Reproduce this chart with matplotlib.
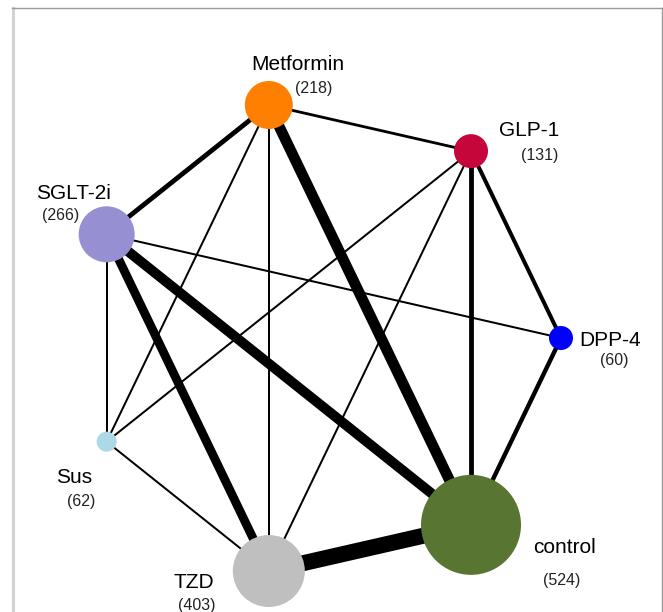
#!/usr/bin/env python3
"""
Network graph of treatment comparisons (circular layout).

Nodes are treatments placed on a circle, node size reflects the number of
participants, edge width reflects the amount of direct evidence.
"""

import numpy as np
import matplotlib.pyplot as plt
from matplotlib.patches import Circle


# =============================================================================
# Data
# =============================================================================

# Treatments in the order they sit on the circle (counter-clockwise,
# starting at 3 o'clock).
treatments = ["DPP-4", "GLP-1", "Metformin", "SGLT-2i", "Sus", "TZD", "control"]
participants = [60, 131, 218, 266, 62, 403, 524]

# Node size (radius, px).
node_size = [12, 17, 24, 28, 10, 36, 50]

node_colors = ["#0000FF", "#C4063B", "#FF8000", "#9690D2",
               "#ADD8E6", "#BFBFBF", "#587532"]

# Direct comparisons and their evidence weight.
edge_from = ["Metformin", "Metformin", "Metformin", "Metformin", "Metformin",
             "GLP-1", "GLP-1", "GLP-1", "GLP-1",
             "SGLT-2i", "SGLT-2i", "SGLT-2i", "SGLT-2i",
             "Sus", "DPP-4", "TZD"]
edge_to = ["GLP-1", "SGLT-2i", "Sus", "TZD", "control",
           "Sus", "TZD", "control", "DPP-4",
           "DPP-4", "Sus", "TZD", "control",
           "TZD", "control", "control"]
edge_weight = [1.4, 2.4, 1.0, 1.0, 5.4,
               1.0, 1.0, 2.4, 2.0,
               1.0, 1.0, 4.4, 5.0,
               1.0, 2.2, 8.0]


# =============================================================================
# Layout / style
# =============================================================================

W, H = 663, 612
CENTER = (322, 612 - 338)
RADIUS = 239
PX_TO_PT = 0.72
EDGE_PX_PER_UNIT = 2.0

# Label offsets from the node centre in px (dx right, dy down):
# (name_dx, name_dy, count_dx, count_dy)
label_offsets = {
    "DPP-4": (49, 0, 53, 21),
    "GLP-1": (58, -23, 69, 3),
    "Metformin": (29, -42, 45, -17),
    "SGLT-2i": (-33, -43, -46, -20),
    "Sus": (-33, 34, -25, 59),
    "TZD": (-75, 9, -72, 33),
    "control": (93, 21, 91, 55),
}

plt.rcParams["font.family"] = ["Liberation Sans", "DejaVu Sans"]


def node_positions():
    angles = np.arange(len(treatments)) * 2 * np.pi / len(treatments)
    xs = CENTER[0] + RADIUS * np.cos(angles)
    ys = CENTER[1] + RADIUS * np.sin(angles)
    return {t: (x, y) for t, x, y in zip(treatments, xs, ys)}


def main():
    fig = plt.figure(figsize=(W / 100, H / 100), dpi=100)
    ax = fig.add_axes([0, 0, 1, 1])
    ax.set_xlim(0, W)
    ax.set_ylim(0, H)
    ax.set_aspect("equal")
    ax.axis("off")

    # Frame around the plotting region (bottom lies below the image).
    ax.plot([13, 13], [H - 8, -10], color="#D3D3D3", lw=2.2, zorder=0)
    ax.plot([12, 662], [H - 8, H - 8], color="#9A9A9A", lw=1.0, zorder=0)
    ax.plot([662, 662], [H - 8, -10], color="#9A9A9A", lw=1.0, zorder=0)

    pos = node_positions()

    # Edges
    for a, b, w in zip(edge_from, edge_to, edge_weight):
        (x0, y0), (x1, y1) = pos[a], pos[b]
        ax.plot([x0, x1], [y0, y1], color="black",
                lw=w * EDGE_PX_PER_UNIT * PX_TO_PT,
                solid_capstyle="butt", zorder=1)

    # Nodes and labels
    for t, n, r, c in zip(treatments, participants, node_size, node_colors):
        x, y = pos[t]
        ax.add_patch(Circle((x, y), r, facecolor=c, edgecolor="none",
                            zorder=2))
        ndx, ndy, cdx, cdy = label_offsets[t]
        ax.text(x + ndx, y - ndy - 7.5, t, fontsize=15,
                ha="center", va="baseline", color="black", zorder=3)
        ax.text(x + cdx, y - cdy - 5.5, f"({n})", fontsize=11.5,
                ha="center", va="baseline", color="#222222", zorder=3)

    fig.savefig("out.png", dpi=100)
    plt.close(fig)


if __name__ == "__main__":
    main()
